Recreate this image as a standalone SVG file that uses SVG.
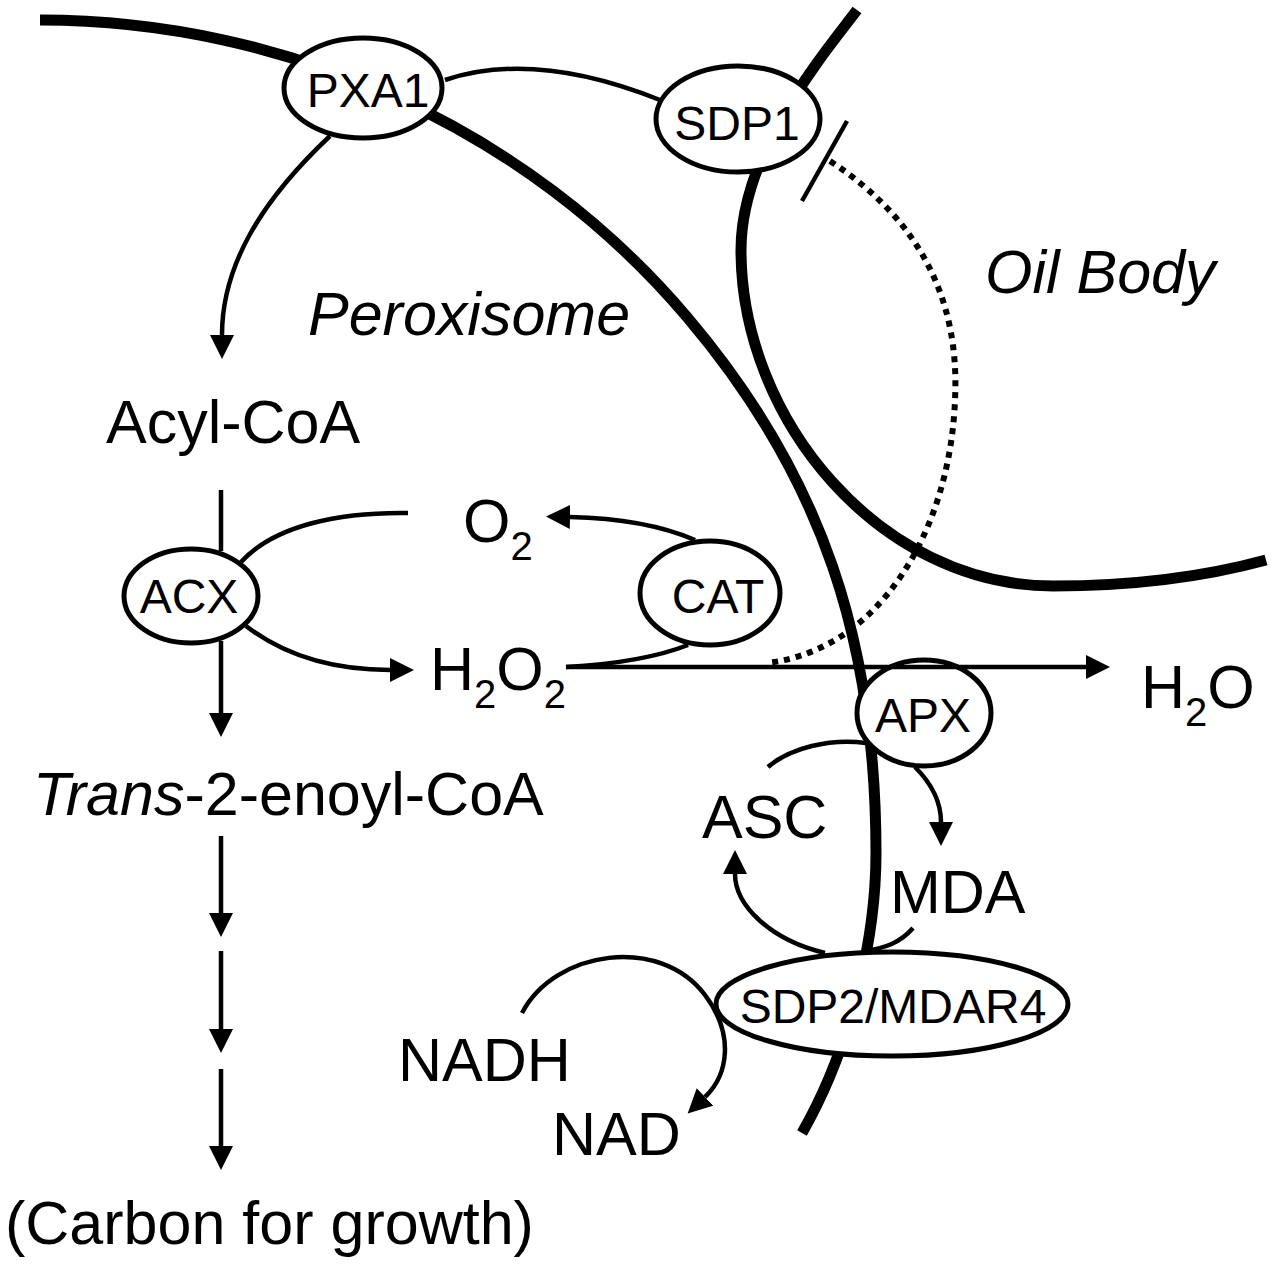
<svg xmlns="http://www.w3.org/2000/svg" width="1280" height="1264" viewBox="0 0 1280 1264">
<defs>
<style>
.mem{fill:none;stroke:#000;stroke-width:11;stroke-linecap:butt}
.node ellipse{fill:#fff;stroke:#000;stroke-width:5}
.en{font-family:"Liberation Sans",Arial,sans-serif;font-size:48px;fill:#000;text-anchor:middle}
.lb{font-family:"Liberation Sans",Arial,sans-serif;font-size:61px;fill:#000}
.it{font-style:italic}
.ln{fill:none;stroke:#000;stroke-width:4.5}
.arr{marker-end:url(#ah)}
.dot{fill:none;stroke:#000;stroke-width:6;stroke-dasharray:6 6}
</style>
<marker id="ah" markerUnits="userSpaceOnUse" markerWidth="26" markerHeight="26" refX="0" refY="12" orient="auto">
<path d="M0,0 L24,12 L0,24 z" fill="#000"/>
</marker>
</defs>
<rect width="1280" height="1264" fill="#fff"/>
<g id="membranes">
<path id="peroxisome-membrane" class="mem" d="M40,20 C287,20 527,128 687,317 C823,477 876,643 876,853 C876,930 855,1040 802,1133"/>
<path id="oilbody-membrane" class="mem" d="M857,10 C827,50 741,150 741,250 C741,420 880,586 1053,586 C1130,586 1200,578 1266,560"/>
</g>
<g id="labels">
<text class="lb it" x="308" y="335">Peroxisome</text>
<text class="lb it" x="985" y="293">Oil Body</text>
</g>
<g id="acyl-coa"><text class="lb" x="106" y="443">Acyl-CoA</text></g>
<g id="trans-2-enoyl-coa"><text class="lb" x="33" y="815"><tspan class="it">Trans</tspan>-2-enoyl-CoA</text></g>
<g id="carbon"><text class="lb" x="5" y="1244">(Carbon for growth)</text></g>
<g id="o2"><text class="lb" x="463" y="542">O<tspan font-size="40" dy="18">2</tspan></text></g>
<g id="h2o2"><text class="lb" x="430" y="690">H<tspan font-size="40" dy="18">2</tspan><tspan dy="-18">O</tspan><tspan font-size="40" dy="18">2</tspan></text></g>
<g id="h2o"><text class="lb" x="1141" y="708">H<tspan font-size="40" dy="18">2</tspan><tspan dy="-18">O</tspan></text></g>
<g id="asc"><text class="lb" x="702" y="838">ASC</text></g>
<g id="mda"><text class="lb" x="890" y="913">MDA</text></g>
<g id="nadh"><text class="lb" x="398" y="1081">NADH</text></g>
<g id="nad"><text class="lb" x="552" y="1155">NAD</text></g>
<g id="pxa1" class="node"><ellipse cx="363" cy="88" rx="79" ry="50"/><text class="en" x="368" y="107">PXA1</text></g>
<g id="sdp1" class="node"><ellipse cx="738" cy="119" rx="82" ry="53"/><text class="en" x="737" y="140">SDP1</text></g>
<g id="acx" class="node"><ellipse cx="191" cy="596" rx="67" ry="47"/><text class="en" x="189" y="613">ACX</text></g>
<g id="cat" class="node"><ellipse cx="710" cy="593" rx="70" ry="52"/><text class="en" x="718" y="613">CAT</text></g>
<g id="apx" class="node"><ellipse cx="924" cy="713" rx="67" ry="53"/><text class="en" x="923" y="732">APX</text></g>
<g id="sdp2" class="node"><ellipse cx="892" cy="1004" rx="176" ry="52"/><text class="en" x="893" y="1023">SDP2/MDAR4</text></g>
<g id="connectors">
<path class="ln" d="M445,80 Q535,50 660,100"/>
<path class="ln arr" d="M330,136 C262,200 222,265 222,335"/>
<path class="ln" d="M221,490 L221,551"/>
<path class="ln arr" d="M221,641 L221,713"/>
<path class="ln" d="M241,562 C275,525 340,512 408,513"/>
<path class="ln arr" d="M246,626 C290,660 340,670 390,670"/>
<path class="ln arr" d="M695,540 C660,525 620,518 570,517"/>
<path class="ln" d="M566,667 C620,664 660,656 688,645"/>
<path class="ln arr" d="M566,667 L1086,667"/>
<path class="dot" d="M830,161 C920,220 960,300 955,400 C950,530 880,650 767,663"/>
<path class="ln" d="M847,121 L802,201"/>
<path class="ln" d="M768,767 C790,748 830,738 866,743"/>
<path class="ln arr" d="M915,767 C930,782 941,800 941,822"/>
<path class="ln arr" d="M825,953 C770,940 735,905 735,874"/>
<path class="ln" d="M913,928 C900,943 885,948 865,951"/>
<path class="ln arr" d="M522,1013 C555,950 660,935 705,995 C735,1035 728,1075 705,1097"/>
<path class="ln arr" d="M221,836 L221,913"/>
<path class="ln arr" d="M221,951 L221,1029"/>
<path class="ln arr" d="M221,1069 L221,1146"/>
</g>
</svg>
